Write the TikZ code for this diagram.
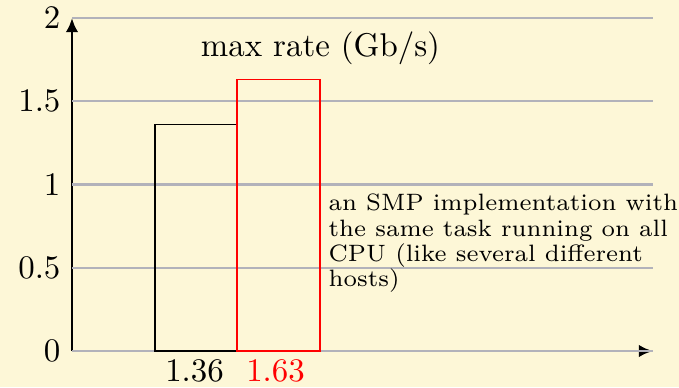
\documentclass[tikz,border=0pt]{standalone}
\usetikzlibrary{arrows.meta}
\definecolor{bgcream}{RGB}{253,247,215}
\definecolor{gridgray}{RGB}{178,178,186}
\begin{document}
\begin{tikzpicture}[x=0.30395pt,y=50.61pt,
  axisline/.style={line width=0.8pt,-{Latex[length=4.3pt,width=3.8pt]}},
  gridline/.style={draw=gridgray,line width=0.65pt},
  bar/.style={line width=0.5pt},
  ticklabel/.style={anchor=east,font=\fontsize{10}{12}\selectfont},
  valuelabel/.style={anchor=base,inner sep=0pt,font=\fontsize{10}{12}\selectfont}]
  % canvas
  \fill[bgcream] (-72,-0.2162) rectangle (607,2.1081);
  \useasboundingbox (-72,-0.2162) rectangle (607,2.1081);
  % axes
  \coordinate (o) at (0,0);
  \coordinate (ytop) at (0,2);
  \coordinate (xend) at (581,0);
  \draw[axisline] (o) -- (ytop);
  \draw[axisline] (o) -- (xend);
  % horizontal grid
  \foreach \v in {0,0.5,1,1.5,2}
    \draw[gridline] (0,\v) -- (581,\v);
  % tick labels
  \foreach \v/\t [count=\i] in {0/0,0.5/0.5,1/1,1.5/1.5,2/2}
    \node[ticklabel] (tick\i) at (0,\v) {\t};
  % bars
  \draw[bar,black] (83,0) rectangle (165,1.36);
  \draw[bar,red] (165,0) rectangle (248,1.63);
  % bar values
  \node[valuelabel] (v1) at (122.5,-0.1802) {1.36};
  \node[valuelabel,text=red] (v2) at (203.5,-0.1802) {1.63};
  % title
  \node[valuelabel] (title) at (248.5,1.7658) {max rate (Gb/s)};
  % note
  \node[anchor=north west,inner sep=0pt,align=left,
        font=\fontsize{7.2}{7.7}\selectfont] (note) at (256,0.945)
    {an SMP implementation with\\the same task running on all\\CPU (like several different\\hosts)};
\end{tikzpicture}
\end{document}
